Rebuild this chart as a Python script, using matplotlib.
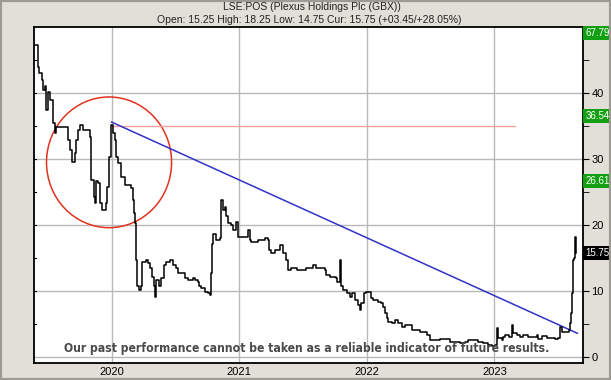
import matplotlib
matplotlib.use('Agg')
import matplotlib.pyplot as plt
from matplotlib.patches import Ellipse, Rectangle
from matplotlib.transforms import blended_transform_factory

# price trace, x in decimal years
years = [2019.396, 2019.422, 2019.435, 2019.456, 2019.461, 2019.482, 2019.488, 2019.500,
         2019.514, 2019.540, 2019.553, 2019.566, 2019.608, 2019.645, 2019.655, 2019.671,
         2019.692, 2019.710, 2019.723, 2019.736, 2019.755, 2019.775, 2019.822, 2019.833,
         2019.841, 2019.859, 2019.867, 2019.880, 2019.893, 2019.906, 2019.927, 2019.953,
         2019.963, 2019.979, 2019.995, 2020.010, 2020.024, 2020.031, 2020.049, 2020.063,
         2020.076, 2020.102, 2020.141, 2020.155, 2020.167, 2020.173, 2020.180, 2020.188,
         2020.198, 2020.212, 2020.233, 2020.241, 2020.267, 2020.285, 2020.304, 2020.319,
         2020.329, 2020.337, 2020.351, 2020.371, 2020.390, 2020.402, 2020.408, 2020.429,
         2020.455, 2020.481, 2020.507, 2020.520, 2020.559, 2020.573, 2020.598, 2020.638,
         2020.651, 2020.677, 2020.685, 2020.704, 2020.729, 2020.755, 2020.769, 2020.782,
         2020.790, 2020.795, 2020.816, 2020.847, 2020.860, 2020.873, 2020.886, 2020.900,
         2020.912, 2020.939, 2020.951, 2020.973, 2020.991, 2021.030, 2021.043, 2021.069,
         2021.082, 2021.096, 2021.147, 2021.200, 2021.226, 2021.234, 2021.252, 2021.278,
         2021.318, 2021.344, 2021.370, 2021.383, 2021.402, 2021.422, 2021.449, 2021.527,
         2021.579, 2021.600, 2021.671, 2021.684, 2021.710, 2021.762, 2021.767, 2021.788,
         2021.794, 2021.814, 2021.841, 2021.867, 2021.880, 2021.906, 2021.932, 2021.945,
         2021.958, 2021.976, 2021.992, 2022.018, 2022.029, 2022.049, 2022.089, 2022.115,
         2022.128, 2022.141, 2022.155, 2022.167, 2022.194, 2022.220, 2022.245, 2022.272,
         2022.298, 2022.337, 2022.351, 2022.416, 2022.455, 2022.468, 2022.494, 2022.547,
         2022.573, 2022.625, 2022.651, 2022.729, 2022.769, 2022.795, 2022.834, 2022.873,
         2022.912, 2022.951, 2022.978, 2023.004, 2023.017, 2023.022, 2023.030, 2023.056,
         2023.069, 2023.082, 2023.116, 2023.135, 2023.147, 2023.174, 2023.200, 2023.226,
         2023.265, 2023.304, 2023.331, 2023.344, 2023.370, 2023.409, 2023.475, 2023.501,
         2023.514, 2023.527, 2023.566, 2023.586, 2023.592, 2023.600, 2023.605, 2023.613,
         2023.618, 2023.626, 2023.631, 2023.636]
prices = [47.3, 44.0, 43.0, 42.0, 40.5, 41.0, 37.4, 40.2,
          39.0, 35.4, 33.9, 34.8, 34.8, 34.8, 32.9, 31.4,
          29.6, 30.9, 32.9, 34.4, 35.2, 34.4, 34.4, 33.4,
          26.8, 24.3, 23.3, 26.6, 26.3, 23.3, 22.3, 23.3,
          25.8, 30.3, 35.2, 33.9, 32.9, 30.3, 29.4, 29.4,
          27.3, 26.1, 26.1, 25.6, 23.8, 21.8, 20.3, 14.7,
          10.7, 10.2, 10.7, 14.4, 14.7, 14.2, 13.5, 12.2,
          10.7, 9.1, 11.7, 10.7, 12.0, 12.0, 13.9, 14.4,
          14.7, 13.9, 13.5, 12.7, 12.7, 12.0, 11.7, 12.0,
          11.7, 11.4, 10.7, 10.5, 9.9, 9.7, 9.4, 12.7,
          17.2, 18.7, 17.7, 18.0, 23.8, 22.3, 22.8, 21.3,
          20.3, 20.0, 19.2, 20.5, 18.2, 18.2, 18.2, 19.2,
          17.7, 17.5, 17.7, 18.0, 17.7, 16.2, 15.7, 16.2,
          17.0, 15.7, 14.7, 13.2, 13.5, 13.5, 13.2, 13.5,
          13.9, 13.5, 13.2, 12.4, 12.2, 12.0, 11.4, 14.7,
          10.7, 10.2, 9.7, 9.1, 9.7, 8.6, 7.9, 7.1,
          8.2, 9.7, 9.9, 9.9, 8.9, 8.6, 8.4, 8.2,
          7.6, 6.7, 5.9, 5.3, 5.1, 5.6, 5.1, 4.6,
          4.8, 4.8, 4.1, 3.8, 3.8, 3.3, 2.6, 2.6,
          2.8, 2.8, 2.3, 2.1, 2.3, 2.6, 2.6, 2.3,
          2.1, 1.8, 1.7, 1.8, 2.1, 4.4, 2.9, 2.6,
          3.1, 3.3, 3.1, 4.8, 3.6, 3.3, 3.1, 3.3,
          3.1, 3.1, 3.3, 2.8, 3.2, 2.9, 2.7, 2.9,
          4.6, 3.8, 3.8, 4.1, 5.1, 6.7, 9.7, 9.9,
          14.7, 15.0, 18.2, 15.75]

# trend line, resistance line, circled area
trend_x = [2020.00, 2023.65]
trend_y = [35.6, 3.6]
level_x = [2020.00, 2023.16]
level_y = [35.0, 35.0]
circle_center = (2019.98, 29.5)
circle_w, circle_h = 0.98, 19.8

# price tags on the right
tag_values = [67.79, 36.54, 26.61, 15.75]
tag_colors = ['#12a012', '#12a012', '#12a012', '#000000']

year_ticks = [2020, 2021, 2022, 2023]
price_ticks = [0, 10, 20, 30, 40]

title1 = 'LSE:POS (Plexus Holdings Plc (GBX))'
title2 = 'Open: 15.25 High: 18.25 Low: 14.75 Cur: 15.75 (+03.45/+28.05%)'
notice = 'Our past performance cannot be taken as a reliable indicator of future results.'

plt.rcParams['font.family'] = ['Liberation Sans', 'DejaVu Sans']

fig = plt.figure(figsize=(6.11, 3.80), dpi=100, facecolor='#e2dfd8')
fig.patches.append(Rectangle((0, 0), 1, 1, transform=fig.transFigure, fill=False,
                             edgecolor='#9c9a93', linewidth=3))

ax = fig.add_axes([34/611, 17/380, 549/611, 336/380])
ax.set_facecolor('white')
ax.set_xlim(2019.392, 2023.694)
ax.set_ylim(-0.9, 50.0)

ax.set_xticks(year_ticks)
ax.set_xticklabels([str(y) for y in year_ticks], fontsize=8)
ax.set_yticks(price_ticks)
ax.set_yticks([5, 15, 25, 35, 45], minor=True)
ax.yaxis.tick_right()
ax.tick_params(axis='y', which='both', direction='out', length=4, labelsize=8, pad=2)
ax.tick_params(axis='x', length=0, pad=3)
ax.grid(True, color='#b9b9b9', linewidth=1)
ax.set_axisbelow(True)
for s in ax.spines.values():
    s.set_linewidth(1.3)

# inner ticks on the left edge
for v in [5, 10, 15, 20, 25, 30, 35, 40, 45]:
    ax.plot([2019.392, 2019.405], [v, v], color='black', linewidth=0.8)

ax.plot(level_x, level_y, color='#f2a0a0', linewidth=1)
ax.plot(trend_x, trend_y, color='#3232c8', linewidth=1.1)
ax.add_patch(Ellipse(circle_center, circle_w, circle_h, fill=False,
                     edgecolor='#e0321e', linewidth=1.1))
ax.plot(years, prices, color='black', linewidth=1.1, drawstyle='steps-post')

# disclaimer, squeezed to the width it has in the original
note = ax.text(2021.53, 0.3, notice, ha='center', va='bottom', fontsize=10,
               fontweight='bold', color='#4a4a4a', stretch='condensed',
               family='DejaVu Sans')
fig.canvas.draw()
w = note.get_window_extent().width
note.set_fontsize(10 * 484 / w)

# price tags
tr = blended_transform_factory(ax.transAxes, ax.transData)
for v, c in zip(tag_values, tag_colors):
    y = min(v, 49.1)
    ax.text(1.004, y, '%.2f' % v, transform=tr, ha='left', va='center',
            fontsize=7, color='white', clip_on=False,
            bbox=dict(boxstyle='square,pad=0.2', facecolor=c, edgecolor='none'))

fig.text(0.51, 1 - 7/380, title1, ha='center', va='center', fontsize=7.5, color='#222222')
fig.text(0.506, 1 - 20/380, title2, ha='center', va='center', fontsize=7.5, color='#222222')

fig.savefig('out.png', dpi=100, facecolor=fig.get_facecolor())
